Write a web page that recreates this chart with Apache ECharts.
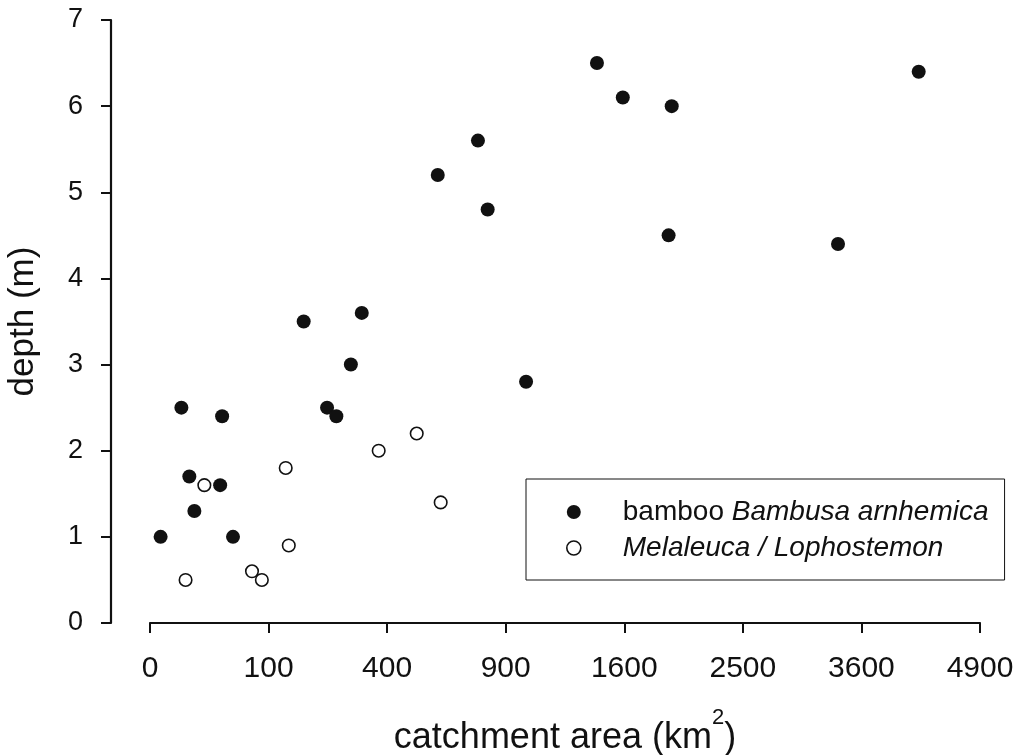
<!DOCTYPE html>
<html>
<head>
<meta charset="utf-8">
<script src="https://cdn.jsdelivr.net/npm/echarts@6/dist/echarts.min.js"></script>
<style>
  html, body { margin: 0; padding: 0; background: #fff; }
  #chart { width: 1018px; height: 755px; }
</style>
</head>
<body>
<div id="chart"></div>
<script>
// Catchment area (km²) and water depth (m) for each site
const bambooArea  = [0.8, 7, 11, 14, 35, 37, 49, 168, 223, 247, 287, 319, 589, 765, 811, 1006, 1421, 1590, 1936, 1913, 3367, 4203];
const bambooDepth = [1.0, 2.5, 1.7, 1.3, 1.6, 2.4, 1.0, 3.5, 2.5, 2.4, 3.0, 3.6, 5.2, 5.6, 4.8, 2.8, 6.5, 6.1, 6.0, 4.5, 4.4, 6.4];

const melaArea  = [9, 21, 74, 89, 131, 137, 372, 506, 601];
const melaDepth = [0.5, 1.6, 0.6, 0.5, 1.8, 0.9, 2.0, 2.2, 1.4];

// x ticks are drawn on a square-root scale of area
const xTicks = [0, 100, 400, 900, 1600, 2500, 3600, 4900];
const depthTicks = [0, 1, 2, 3, 4, 5, 6, 7];

const FONT = "'Liberation Sans', Arial, sans-serif";
const INK = '#111';

function pairs(area, depth) {
  return area.map((a, i) => [Math.sqrt(a), depth[i]]);
}

const sqrtMax = Math.sqrt(xTicks[xTicks.length - 1]);

const chart = echarts.init(document.getElementById('chart'), null, { renderer: 'canvas' });

const legendText = { fontFamily: FONT, fontSize: 28, color: INK, lineHeight: 30 };

chart.setOption({
  backgroundColor: '#fff',
  animation: false,
  textStyle: { fontFamily: FONT, color: INK },
  grid: { left: 150, right: 38, top: 20, bottom: 132, containLabel: false, outerBoundsMode: 'none' },
  xAxis: {
    type: 'value',
    min: 0,
    max: sqrtMax,
    interval: 10,
    name: 'catchment area (km{sup|2})',
    nameLocation: 'middle',
    nameGap: 84,
    nameTextStyle: {
      fontFamily: FONT, fontSize: 36, color: INK,
      rich: { sup: { fontFamily: FONT, fontSize: 22, color: INK, padding: [0, 0, 40, 0] } }
    },
    axisLine: { show: true, onZero: false, lineStyle: { color: INK, width: 2.2 } },
    axisTick: { show: true, inside: false, length: 10, lineStyle: { color: INK, width: 2 } },
    axisLabel: {
      margin: 31, fontSize: 30, fontFamily: FONT, color: INK,
      formatter: v => String(Math.round(v * v))
    },
    splitLine: { show: false }
  },
  yAxis: {
    type: 'value',
    min: depthTicks[0],
    max: depthTicks[depthTicks.length - 1],
    interval: 1,
    offset: 39,
    name: 'depth (m)',
    nameLocation: 'middle',
    nameGap: 70,
    nameTextStyle: { fontFamily: FONT, fontSize: 35, color: INK },
    axisLine: { show: true, onZero: false, lineStyle: { color: INK, width: 2.2 } },
    axisTick: { show: true, inside: false, length: 10, lineStyle: { color: INK, width: 2 } },
    axisLabel: { margin: 28, fontSize: 27, fontFamily: FONT, color: INK },
    splitLine: { show: false }
  },
  legend: {
    orient: 'vertical',
    left: 526,
    top: 479,
    padding: [18, 16, 17, 40],
    itemGap: 6,
    itemWidth: 14,
    itemHeight: 14,
    borderColor: INK,
    borderWidth: 1,
    backgroundColor: '#fff',
    data: [
      { name: 'bamboo Bambusa arnhemica', icon: 'circle' },
      { name: 'Melaleuca / Lophostemon', icon: 'circle', itemStyle: { color: '#fff', borderColor: INK, borderWidth: 1.6 } }
    ],
    formatter: name => name.startsWith('bamboo')
      ? '{n|bamboo }{i|Bambusa arnhemica}'
      : '{i0|' + name + '}',
    textStyle: Object.assign({}, legendText, {
      rich: {
        n: Object.assign({}, legendText, { padding: [0, 0, 0, 37] }),
        i: Object.assign({}, legendText, { fontStyle: 'italic' }),
        i0: Object.assign({}, legendText, { fontStyle: 'italic', padding: [0, 0, 0, 37] })
      }
    })
  },
  series: [
    {
      name: 'bamboo Bambusa arnhemica',
      type: 'scatter',
      symbol: 'circle',
      symbolSize: 14,
      itemStyle: { color: INK, opacity: 1 },
      data: pairs(bambooArea, bambooDepth)
    },
    {
      name: 'Melaleuca / Lophostemon',
      type: 'scatter',
      symbol: 'circle',
      symbolSize: 12.5,
      itemStyle: { color: '#fff', borderColor: INK, borderWidth: 1.6, opacity: 1 },
      data: pairs(melaArea, melaDepth)
    }
  ]
});
</script>
</body>
</html>
